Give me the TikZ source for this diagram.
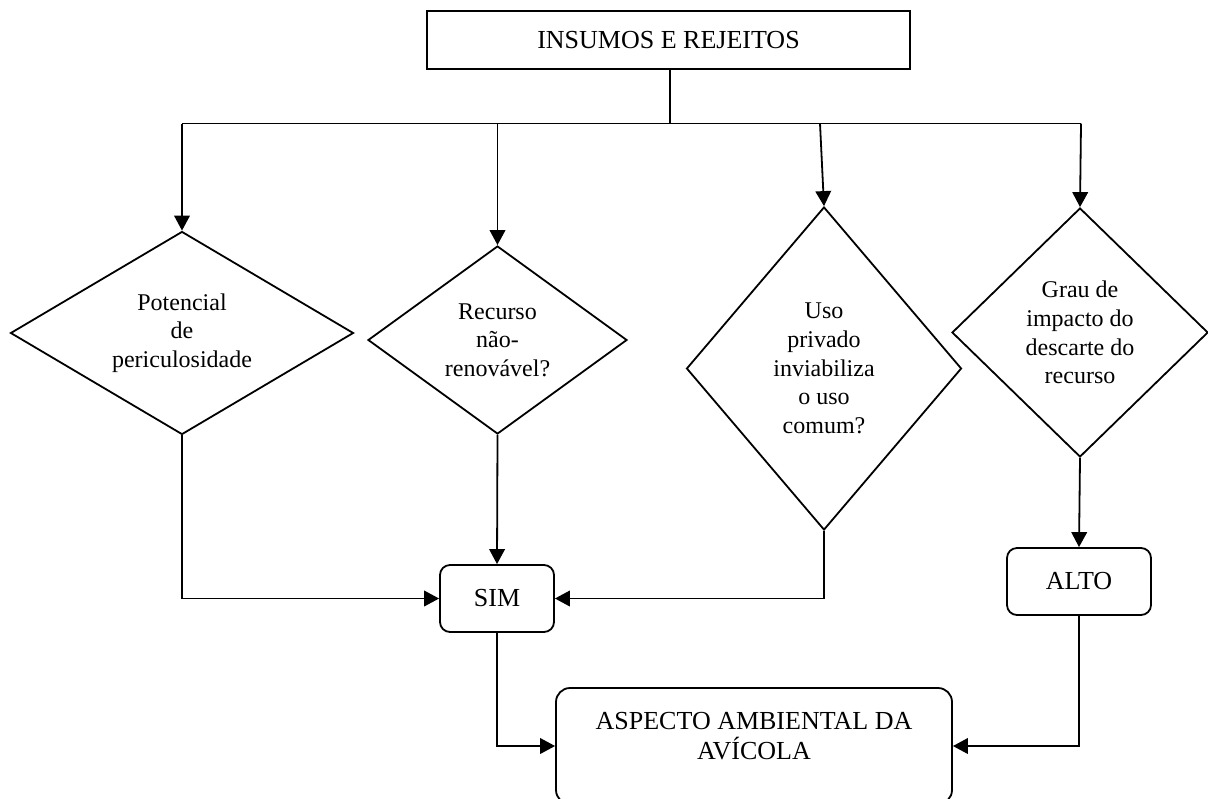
\documentclass[tikz,border=0pt]{standalone}
\usepackage{fontspec}
\setmainfont{Liberation Serif}
\usetikzlibrary{arrows.meta,shapes.geometric}

\begin{document}
\begin{tikzpicture}[x=0.5pt, y=-0.5pt, line width=0.9pt,
    arr/.style={-{Triangle[length=7.5pt,width=7.8pt]}},
    rect/.style={draw, rectangle, inner sep=0pt, align=center,
      font=\fontsize{13}{15}\selectfont},
    res/.style={rect, rounded corners=5pt},
    dec/.style={draw, diamond, inner sep=0pt, align=center,
      font=\fontsize{12}{14.3}\selectfont}]

  \useasboundingbox (0,0) rectangle (1208,798);

  % Top box
  \node[rect, minimum width=241.5pt, minimum height=29pt] (insumos) at (668.5,40)
    {INSUMOS E REJEITOS};

  % Branch points
  \coordinate (hub) at (670,123.5);
  \coordinate (b1) at (182,123.5);
  \coordinate (b3) at (820,123.5);
  \coordinate (b4) at (1081,123.5);

  % Decisions
  \node[dec, aspect=1.69, minimum width=171.5pt, minimum height=101.5pt] (d1) at (182,333)
    {Potencial\\de\\periculosidade};
  \node[dec, aspect=1.38, minimum width=129.5pt, minimum height=94pt] (d2) at (497.5,340)
    {Recurso\\não-\\renovável?};
  \node[dec, aspect=0.85, minimum width=137.5pt, minimum height=161.5pt] (d3) at (824,368.5)
    {Uso\\privado\\inviabiliza\\o uso\\comum?};
  \node[dec, aspect=1, minimum width=128pt, minimum height=124.5pt] (d4) at (1080,332.5)
    {Grau de\\impacto do\\descarte do\\recurso};

  % Answers
  \node[res, minimum width=57pt, minimum height=33.5pt] (sim) at (497,598.5) {SIM};
  \node[res, minimum width=72pt, minimum height=33.5pt] (alto) at (1079,581.5) {ALTO};

  % Final box (cut at the bottom edge)
  \node[rect, rounded corners=7pt, minimum width=198pt, minimum height=58pt,
    text depth=10pt] (aspecto) at (754,746)
    {ASPECTO AMBIENTAL DA\\AVÍCOLA};

  % Tree from the top box
  \draw (hub |- insumos.south) -- (hub);
  \draw (b1) -- (b4);
  \draw[arr] (b1) -- (d1.north);
  \draw[arr] (d2.north |- b1) -- (d2.north);
  \draw[arr] (b3) -- (d3.north);
  \draw[arr] (b4) -- (d4.north);

  % Into the answers
  \draw[arr] (d1.south) |- (sim.west);
  \draw[arr] (d2.south) -- (sim.north);
  \draw[arr] (d3.south) |- (sim.east);
  \draw[arr] (d4.south) -- (alto.north);

  % Into the final box
  \draw[arr] (sim.south) |- (aspecto.west);
  \draw[arr] (alto.south) |- (aspecto.east);

\end{tikzpicture}
\end{document}
